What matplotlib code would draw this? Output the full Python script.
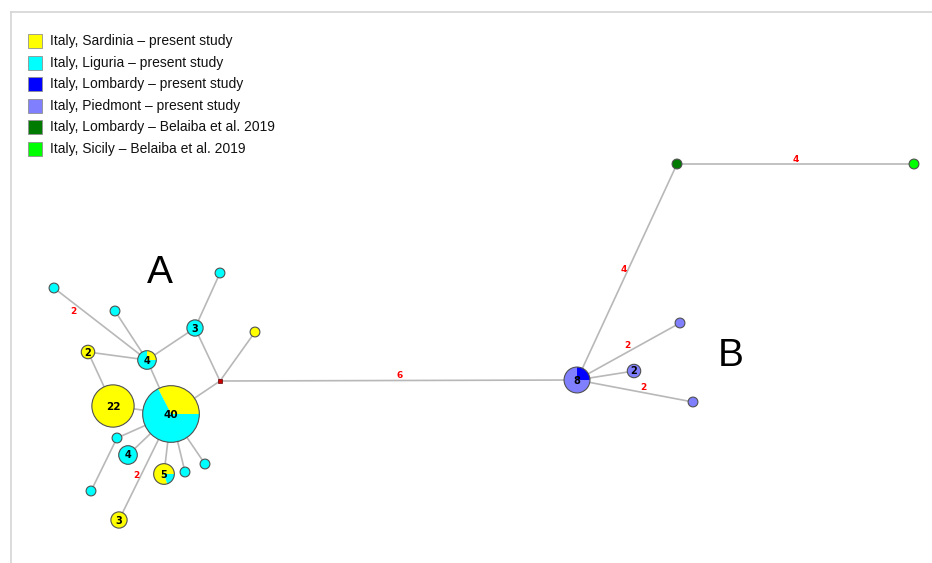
import matplotlib

matplotlib.use("Agg")
import matplotlib.pyplot as plt
from matplotlib.patches import Circle, Rectangle, Wedge
import numpy as np

# Populations (legend order)
populations = [
    "Italy, Sardinia – present study",
    "Italy, Liguria – present study",
    "Italy, Lombardy – present study",
    "Italy, Piedmont – present study",
    "Italy, Lombardy – Belaiba et al. 2019",
    "Italy, Sicily – Belaiba et al. 2019",
]
pop_colors = ["#ffff00", "#00ffff", "#0000ff", "#8080ff", "#007a00", "#00ff00"]

# Haplotypes: id -> counts per population (same order as above)
haplotypes = {
    "h40": [13, 27, 0, 0, 0, 0],
    "h22": [22, 0, 0, 0, 0, 0],
    "h4a": [1, 3, 0, 0, 0, 0],
    "h3c": [0, 3, 0, 0, 0, 0],
    "h2y": [2, 0, 0, 0, 0, 0],
    "c1": [0, 1, 0, 0, 0, 0],
    "c2": [0, 1, 0, 0, 0, 0],
    "c3": [0, 1, 0, 0, 0, 0],
    "y1": [1, 0, 0, 0, 0, 0],
    "c4": [0, 1, 0, 0, 0, 0],
    "c5": [0, 1, 0, 0, 0, 0],
    "h4c": [0, 4, 0, 0, 0, 0],
    "h5": [4, 1, 0, 0, 0, 0],
    "c6": [0, 1, 0, 0, 0, 0],
    "c7": [0, 1, 0, 0, 0, 0],
    "h3y": [3, 0, 0, 0, 0, 0],
    "h8": [0, 0, 2, 6, 0, 0],
    "h2p": [0, 0, 0, 2, 0, 0],
    "p1": [0, 0, 0, 1, 0, 0],
    "p2": [0, 0, 0, 1, 0, 0],
    "g1": [0, 0, 0, 0, 1, 0],
    "g2": [0, 0, 0, 0, 0, 1],
}

# Network layout (screen coordinates)
layout = {
    "h40": (171, 414), "h22": (113, 406), "h4a": (147, 360), "h3c": (195, 328),
    "h2y": (88, 352), "c1": (54, 288), "c2": (115, 311), "c3": (220, 273),
    "y1": (255, 332), "c4": (117, 438), "c5": (91, 491), "h4c": (128, 455),
    "h5": (164, 474), "c6": (185, 472), "c7": (205, 464), "h3y": (119, 520),
    "mv": (220, 381),
    "h8": (577, 380), "h2p": (634, 371), "p1": (680, 323), "p2": (693, 402),
    "g1": (677, 164), "g2": (914, 164),
}

# Links: (from, to, number of mutational steps)
links = [
    ("h40", "h22", 1), ("h40", "h4a", 1), ("h4a", "c1", 2), ("h4a", "c2", 1),
    ("h4a", "h2y", 1), ("h2y", "h22", 1), ("h4a", "h3c", 1), ("h3c", "c3", 1),
    ("h3c", "mv", 1), ("mv", "y1", 1), ("mv", "h40", 1), ("mv", "h8", 6),
    ("h40", "c4", 1), ("c4", "c5", 1), ("h40", "h4c", 1), ("h40", "h3y", 2),
    ("h40", "h5", 1), ("h40", "c6", 1), ("h40", "c7", 1),
    ("h8", "g1", 4), ("g1", "g2", 4), ("h8", "p1", 2), ("h8", "h2p", 1),
    ("h8", "p2", 2),
]

# Where the step counts sit along each labelled link
step_label_pos = {
    ("h4a", "c1"): (73, 311), ("mv", "h8"): (400, 375), ("h40", "h3y"): (136, 476),
    ("h8", "g1"): (624, 269), ("g1", "g2"): (796, 160), ("h8", "p1"): (627, 346),
    ("h8", "p2"): (643, 388),
}


def radius(n):
    return 4.4 * np.sqrt(n) + 0.5


fig = plt.figure(figsize=(9.32, 5.63), dpi=100)
ax = fig.add_axes([0, 0, 1, 1])
ax.set_xlim(0, 932)
ax.set_ylim(563, 0)
ax.set_aspect("equal")
ax.axis("off")

# frame
ax.plot([11, 932], [12, 12], color="#d4d4d4", lw=1.2, zorder=1)
ax.plot([11, 11], [12, 563], color="#d4d4d4", lw=1.2, zorder=1)

for a, b, steps in links:
    (x0, y0), (x1, y1) = layout[a], layout[b]
    ax.plot([x0, x1], [y0, y1], color="#b8b8b8", lw=1.2, zorder=2)
    if steps > 1:
        lx, ly = step_label_pos[(a, b)]
        ax.text(lx, ly, str(steps), color="red", fontsize=6.5, fontweight="bold",
                ha="center", va="center", zorder=5)

for hid, counts in haplotypes.items():
    x, y = layout[hid]
    total = sum(counts)
    r = radius(total)
    # y axis is flipped, so negate the angles to go counter-clockwise on screen
    theta = 0.0
    for c, col in zip(counts, pop_colors):
        if c == 0:
            continue
        span = 360.0 * c / total
        ax.add_patch(Wedge((x, y), r, -(theta + span), -theta, facecolor=col,
                           edgecolor="none", zorder=3))
        theta += span
    ax.add_patch(Circle((x, y), r, facecolor="none", edgecolor="#505050",
                        lw=0.8, zorder=4))
    if total > 1:
        ax.text(x, y + 0.5, str(total), fontsize=7 if total < 20 else 7.5,
                fontweight="bold", ha="center", va="center", zorder=5)

# median vector
mx, my = layout["mv"]
ax.add_patch(Rectangle((mx - 2, my - 2), 4, 4, facecolor="#cc0000",
                       edgecolor="#660000", lw=0.5, zorder=4))

ax.text(160, 273, "A", fontsize=28, family="Liberation Sans", ha="center", va="center")
ax.text(731, 356, "B", fontsize=28, family="Liberation Sans", ha="center", va="center")

# legend
for i, (name, col) in enumerate(zip(populations, pop_colors)):
    y = 41 + i * 21.6
    ax.add_patch(Rectangle((28, y - 7), 14, 14, facecolor=col, edgecolor="#909090",
                           lw=0.6, zorder=4))
    ax.text(50, y, name, fontsize=10, family="Liberation Sans", ha="left",
            va="center", color="#111111")

fig.savefig("out.png", dpi=100)
